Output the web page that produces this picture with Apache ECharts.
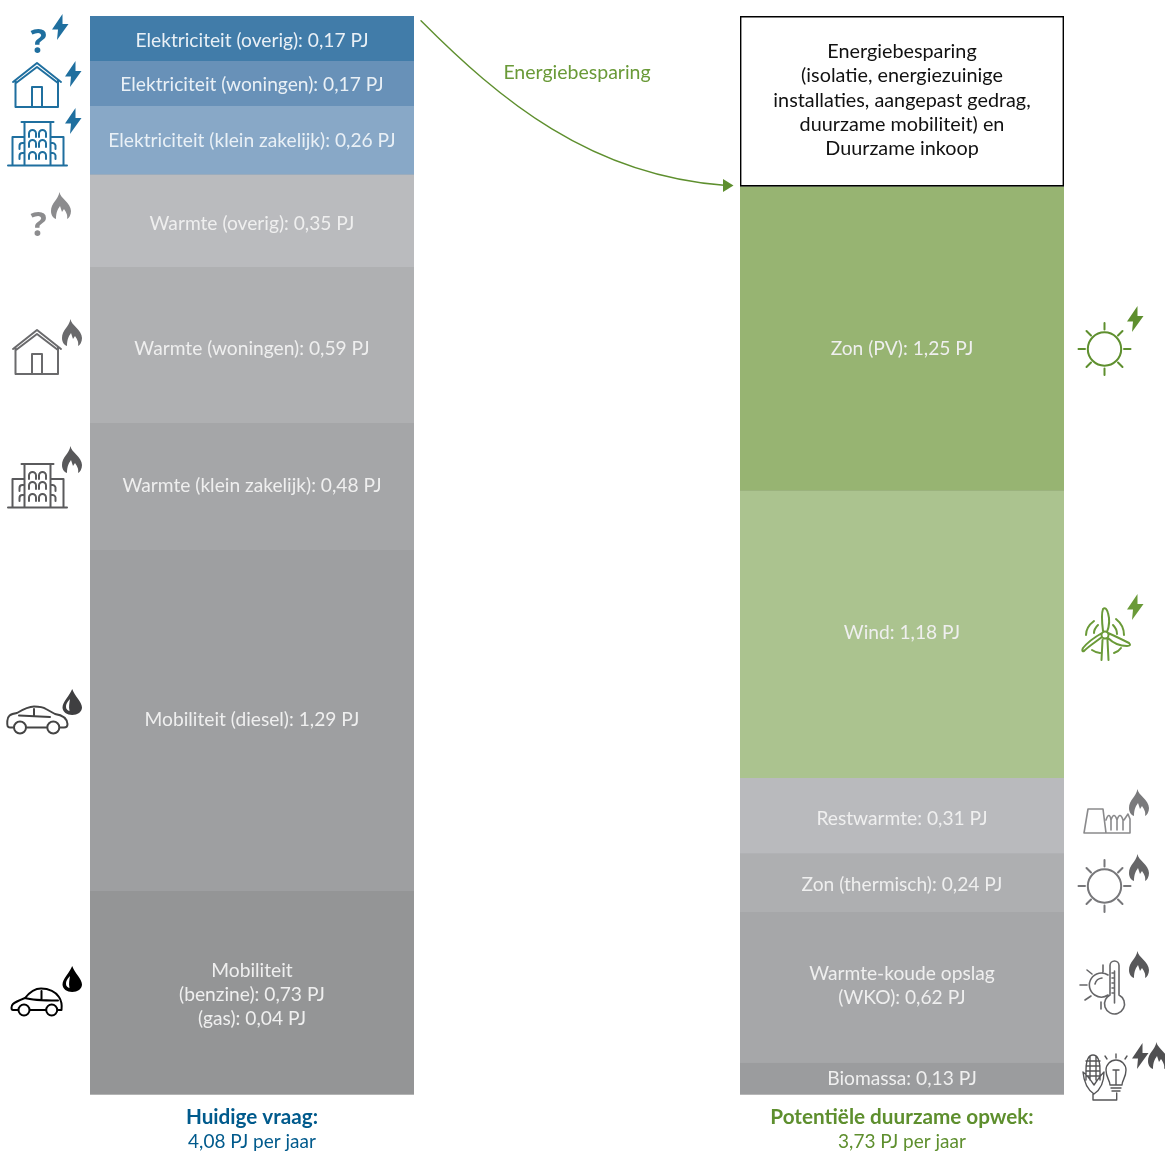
<!DOCTYPE html>
<html>
<head>
<meta charset="utf-8">
<style>html,body{margin:0;padding:0;background:#fff}#c{width:1165px;height:1151px}</style>
<script src="https://cdn.jsdelivr.net/npm/echarts@6/dist/echarts.min.js"></script>
</head>
<body>
<div id="c"></div>
<script>
// ---- data (PJ per year), listed top to bottom as in the picture
const demandTitle = 'Huidige vraag:';
const demandSub = '4,08 PJ per jaar';
const demandLabels = ['Elektriciteit (overig): 0,17 PJ','Elektriciteit (woningen): 0,17 PJ','Elektriciteit (klein zakelijk): 0,26 PJ','Warmte (overig): 0,35 PJ','Warmte (woningen): 0,59 PJ','Warmte (klein zakelijk): 0,48 PJ','Mobiliteit (diesel): 1,29 PJ','Mobiliteit\n(benzine): 0,73 PJ\n(gas): 0,04 PJ'];
const demandValues = [0.17,0.17,0.26,0.35,0.59,0.48,1.29,0.77];

const supplyTitle = 'Potentiële duurzame opwek:';
const supplySub = '3,73 PJ per jaar';
const supplyLabels = ['Energiebesparing\n(isolatie, energiezuinige\ninstallaties, aangepast gedrag,\nduurzame mobiliteit) en\nDuurzame inkoop','Zon (PV): 1,25 PJ','Wind: 1,18 PJ','Restwarmte: 0,31 PJ','Zon (thermisch): 0,24 PJ','Warmte-koude opslag\n(WKO): 0,62 PJ','Biomassa: 0,13 PJ'];
const supplyValues = [0.70,1.25,1.18,0.31,0.24,0.62,0.13];

// ---- styling, kept apart from the data
const demandColors = ['#417CA9','#6891B8','#88A8C7','#BABBBE','#AFB0B2','#A5A6A8','#9E9FA1','#949596'];
const supplyColors = ['#FFFFFF','#97B472','#ABC38F','#B9BABD','#AEAFB1','#A6A7A9','#9B9C9E'];
const demandNudge = [2,1,1,3,4,-1,-1,2];
const supplyNudge = [-1,10,-2,3,2,-1.5,0];

const FONT = 'Lato';
const BLUE = '#1F6F9F', DARKBLUE = '#005A8C', GREEN = '#5E8F2E', LGREEN = '#6A9A38';

function stackSeries(labels, values, colors, nudge, axisIndex, stack) {
  // reverse so the first listed sits on top of the stack
  return values.map((v, i) => i).reverse().map((i, drawIndex) => {
    const isBox = colors[i] === '#FFFFFF';
    return {
      type: 'bar', stack, xAxisIndex: axisIndex, yAxisIndex: axisIndex,
      barCategoryGap: 0, barWidth: '100%', silent: true,
      name: labels[i].split(':')[0],
      data: [values[i]],
      // a grey underlay keeps the seams between segments from showing the white page
      showBackground: drawIndex === 0,
      backgroundStyle: {color: '#A5A6A8'},
      itemStyle: isBox
        ? {color: '#fff', borderColor: '#000', borderWidth: 1.4}
        : {color: colors[i]},
      label: {
        show: true, position: 'inside', formatter: labels[i],
        fontFamily: FONT, fontSize: isBox ? 19.8 : 19.2, lineHeight: 24.3,
        color: isBox ? '#111' : (axisIndex === 0 && i < 3 ? '#E9F0F6' : '#EFEFEF'),
        offset: [0, nudge[i]]
      }
    };
  });
}

function axisLabel(color) {
  return {
    show: true, interval: 0, margin: 11,
    formatter: v => { const p = v.split('\n'); return '{b|' + p[0] + '}\n{r|' + p[1] + '}'; },
    rich: {
      b: {fontFamily: FONT, fontWeight: 'bold', fontSize: 20.7, lineHeight: 24, color},
      r: {fontFamily: FONT, fontSize: 19, lineHeight: 24, color}
    }
  };
}

// ---- icons (decoration only)
const BOLT = 'M10.5,0 L0,15.5 L6,15.5 L5,26 L16.5,10 L10.5,10 Z';
const FLAME = 'M8.5,0 C9,6 20,11 20,19 C20,23 18,26 16,27 C17,23 15,20 13,17 L11,20 L9,14 C7,17 5,20 5,27 C2,26 0,23 0,19 C0,11 7,8 8.5,0 Z';
const DROP = 'M9.7,0 C12,7 19.5,13 19.5,18.5 C19.5,23 15,26 9.7,26 C4.5,26 0,23 0,18.5 C0,13 7,7 9.7,0 Z';
const DROP_HI = 'M3.5,18 C3.5,14 6,12 7.5,10 C7,14 6,17 7,22 C5,21.5 3.5,20 3.5,18 Z';
const HOUSE = 'M0,19 L24,0 L48,19 M3,20 L24,4 L45,20 M2.5,17 V44 H45 V17 M19,44 V24 H29 V44';
function arch(x, y) { return `M${x},${y + 7} V${y + 3.5} A3.5,3.5 0 0 1 ${x + 7},${y + 3.5} V${y + 7} `; }
const BUILDING = 'M0,43.5 H59 M13.5,0 H45.5 M16.5,0 V43 M42.5,0 V43 M16,15 H4.5 V43 M43,15 H55.5 V43 ' +
  [[21,8],[31,8],[21,18],[31,18],[21,30],[31,30]].map(p => arch(p[0], p[1])).join('') +
  'M11.5,27 V24 A3,3 0 0 1 15,21 M11.5,37 V34 A3,3 0 0 1 15,31 M44,21 A3,3 0 0 1 47.5,24 V27 M44,31 A3,3 0 0 1 47.5,34 V37';
const SEDAN = 'M7,21.5 L3,21.5 C0.5,21.5 0,20 0.3,15 C0.5,10 3,8 10,7 C15,4 21,0.5 27,0.5 C33,0.5 36,1 39,3 L48,8 C55,9 60,12 60.5,18 C60.5,20 60,21.5 57,21.5 L52.5,21.5 M19.5,21.5 H40 M12,9.5 L43,11 M27,3 V10 M19,21.5 A6,6 0 1 1 7,21.5 A6,6 0 1 1 19,21.5 M52.3,21.5 A6,6 0 1 1 40.3,21.5 A6,6 0 1 1 52.3,21.5';
const HATCH = 'M7.5,22 L2,22 C0,22 0,18 2,16 C4,14 9,12 14,10 C18,5 23,0.5 30,0.5 C38,0.5 45,4 48,9 C50,12 51,18 50.5,22 L46.5,22 M18.5,22 H35 M14,10 C20,12 35,12.5 47,12.5 M30.5,3 V11 M18.5,22 A5.5,5.5 0 1 1 7.5,22 A5.5,5.5 0 1 1 18.5,22 M46.2,22 A5.5,5.5 0 1 1 35.2,22 A5.5,5.5 0 1 1 46.2,22';
const SUN = 'M16.7,0 A16.7,16.7 0 1 1 -16.7,0 A16.7,16.7 0 1 1 16.7,0 M0,-26 V-19.5 M0,19.5 V26 M-26,0 H-19.5 M19.5,0 H26 M-18,-18 L-13.5,-13.5 M13.5,-13.5 L18,-18 M-18,18 L-13.5,13.5 M13.5,13.5 L18,18';
const TURBINE = 'M3.5,0 A3.5,3.5 0 1 1 -3.5,0 A3.5,3.5 0 1 1 3.5,0 M-2,-4 C-3,-12 -3.5,-22 -2,-26 C0,-28 2,-26 3,-22 C5,-15 4,-8 2,-3 M-3,2 C-8,6 -16,11 -21,16 C-23,17 -23,15 -22,13 C-18,8 -10,2 -3,-2 M3,-2 C10,1 18,5 24,8 C26,10 25,11 22,11 C14,11 8,8 3,3 M-2.5,5 L-3.5,25 M2.5,5 L3.5,25 M-19,0 C-19,-6 -15,-11 -11,-14 M-11,-2 C-11,-5 -9,-8 -7,-10 M11,-16 C16,-12 19,-6 19,0 M8,-10 C10,-8 12,-5 12,-1 M-13,15 C-10,17 -8,18 -5,18 M9,18 C12,17 14,16 16,13';
const FACTORY = 'M0,25 L4,1 H19 L22,25 Z M22,25 H46 V11 L44,6 L40,12 M22,12 C24,6 26,6 27,12 V22 M27,12 C29,6 31,6 33,12 V22 M33,12 C35,6 37,6 39,12 V22';
const THERMO = 'M5,34 V4.5 A4.5,4.5 0 0 1 14,4.5 V34 A10,10 0 1 1 5,34 Z M9.5,10 V42 M7,12 H9.5 M7,17 H9.5 M7,22 H9.5 M7,27 H9.5 M7,32 H9.5 M3,14 A12,12 0 1 0 3,34 M-3,17 A8,8 0 0 0 -10,23 M-18,9 L-13,13 M-2,4 V11 M-25,24 H-18 M-20,39 L-14,35 M-4,41 V48';
const BIO = 'M10,0 C16,0 17,8 17,16 L17,25 M10,0 C4,0 3,8 3,16 L3,25 M3,6 H17 M3,11 H17 M3,16 H17 M3,21 H17 M7,1 V25 M13,1 V25 M0,17 C1,28 5,35 11,39 C17,35 21,28 21,17 C18,20 15,24 11,30 C7,24 4,20 0,17 Z M10,39 V45 H33.7 V38 M27,30 C27,25 23,23 23,15 A10,10 0 0 1 43,15 C43,23 39,25 39,30 Z M28,33 H38 M29,36 H37 M33,30 V15 M30,15 H36 M33,-1 V3 M22,1 L24,4 M44,1 L42,4';

// the graphic component needs a registered shape class for each SVG path
let shapeCount = 0;
const cache = {};
function shapeName(path) {
  if (!cache[path]) {
    cache[path] = 'iconShape' + (shapeCount++);
    echarts.graphic.registerShape(cache[path], echarts.graphic.extendPath(path, {}));
  }
  return cache[path];
}

const stroke = (path, x, y, color, lw) => ({
  type: shapeName(path), x, y, silent: true,
  style: {fill: 'transparent', stroke: color, lineWidth: lw || 2, lineJoin: 'round', lineCap: 'round'}
});
const solid = (path, x, y, color) => ({
  type: shapeName(path), x, y, silent: true, style: {fill: color, stroke: 'none'}
});
const qmark = (x, y, color) => ({
  type: 'text', x, y, silent: true,
  style: {text: '?', fontFamily: 'Open Sans', fontWeight: 'bold', fontSize: 34, fill: color, textAlign: 'center', textVerticalAlign: 'middle'}
});

const icons = [
  qmark(38.5, 43, BLUE), solid(BOLT, 52, 14, BLUE),
  stroke(HOUSE, 13, 63, BLUE), solid(BOLT, 65, 61, BLUE),
  stroke(BUILDING, 8, 122, BLUE), solid(BOLT, 65, 108, BLUE),
  qmark(38.5, 226, '#8C8C8E'), solid(FLAME, 51, 192, '#8C8C8E'),
  stroke(HOUSE, 13, 330, '#6A6A6C'), solid(FLAME, 62, 319, '#6A6A6C'),
  stroke(BUILDING, 8, 464, '#5A5A5C'), solid(FLAME, 62, 446, '#58585A'),
  stroke(SEDAN, 7, 706, '#444'), solid(DROP, 62.5, 689, '#3F3F41'), solid(DROP_HI, 62.5, 689, '#fff'),
  stroke(HATCH, 11, 988, '#000'), solid(DROP, 62.5, 966, '#000'), solid(DROP_HI, 62.5, 966, '#fff'),
  stroke(SUN, 1104.5, 349, GREEN), solid(BOLT, 1127, 306, GREEN),
  stroke(TURBINE, 1105, 635, LGREEN), solid(BOLT, 1127, 594, LGREEN),
  stroke(FACTORY, 1084, 808, '#8A8A8C', 1.6), solid(FLAME, 1129, 789, '#7A7A7C'),
  stroke(SUN, 1104.5, 886, '#77777A'), solid(FLAME, 1129, 854, '#666668'),
  stroke(THERMO, 1105, 961, '#666668', 1.6), solid(FLAME, 1129, 951, '#58585A'),
  stroke(BIO, 1083, 1055, '#555557', 1.4), solid(BOLT, 1132, 1043, '#505052'), solid(FLAME, 1148, 1042, '#505052'),
  // arrow
  stroke('M421,20.7 C500,100 590,175 724,185.3', 0, 0, GREEN, 1.4),
  solid('M723,179 L733.5,185.5 L723,192 Z', 0, 0, GREEN),
  {type: 'text', x: 577, y: 73, silent: true,
   style: {text: 'Energiebesparing', fontFamily: FONT, fontSize: 19.5, fill: LGREEN, textAlign: 'center', textVerticalAlign: 'middle'}}
];

const chart = echarts.init(document.getElementById('c'), null, {renderer: 'canvas'});
chart.setOption({
  animation: false,
  backgroundColor: '#fff',
  grid: [
    {left: 90, top: 16, width: 324, height: 1079},
    {left: 740, top: 16, width: 324, height: 1079}
  ],
  xAxis: [
    {type: 'category', gridIndex: 0, data: [demandTitle + '\n' + demandSub], axisLine: {show: false}, axisTick: {show: false}, axisLabel: axisLabel(DARKBLUE)},
    {type: 'category', gridIndex: 1, data: [supplyTitle + '\n' + supplySub], axisLine: {show: false}, axisTick: {show: false}, axisLabel: axisLabel(GREEN)}
  ],
  yAxis: [
    {type: 'value', gridIndex: 0, min: 0, max: 4.08, show: false, splitLine: {show: false}},
    {type: 'value', gridIndex: 1, min: 0, max: 4.43, show: false, splitLine: {show: false}}
  ],
  series: [
    ...stackSeries(demandLabels, demandValues, demandColors, demandNudge, 0, 'demand'),
    ...stackSeries(supplyLabels, supplyValues, supplyColors, supplyNudge, 1, 'supply')
  ],
  graphic: {elements: icons}
});
</script>
</body>
</html>
